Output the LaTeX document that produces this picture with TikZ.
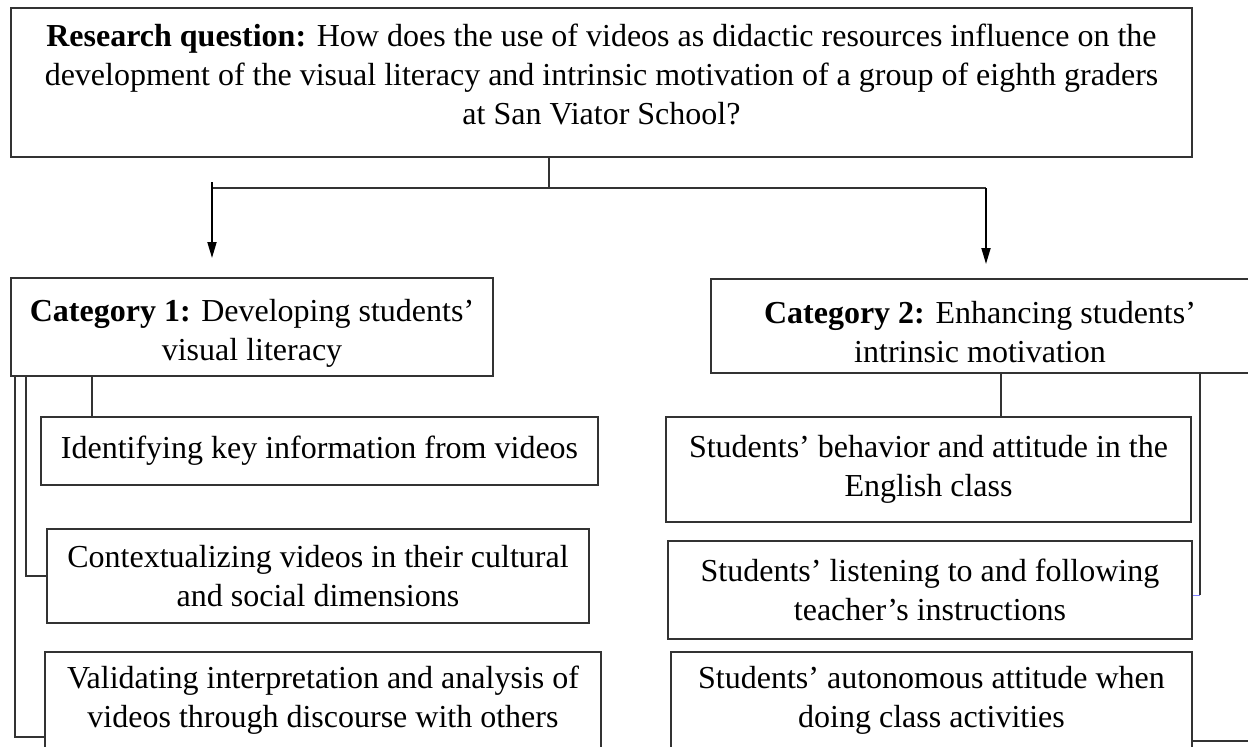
\documentclass[tikz,border=0pt]{standalone}
\usepackage{fontspec}
\setmainfont{Liberation Serif}
\usepackage{tikz}
\usetikzlibrary{arrows,
	arrows.meta,
	calc,
	positioning}

\begin{document}
\begin{tikzpicture}[x=0.5pt,y=-0.5pt,font=\fontsize{16}{19.5}\selectfont]
      \tikzstyle{box}=[draw=black!80,line width=0.7pt,align=center,inner sep=0pt]
      \tikzstyle{txt}=[align=center,inner sep=0pt]
      \tikzstyle{link}=[draw=black!80,line width=0.7pt]
      \tikzstyle{arr}=[draw=black,line width=0.9pt,-{Triangle[length=8pt,width=4.5pt]}]
      \useasboundingbox (0,0) rectangle (1248,746);
      \node[box,minimum width=590.5pt,minimum height=74.5pt] (rq) at (601.5,82.5) {};
      \node[txt] (rq_text) at ([yshift=4pt]rq.center)
        {\textbf{Research question:} How does the use of videos as didactic resources influence on the\\
         development of the visual literacy and intrinsic motivation of a group of eighth graders\\
         at San Viator School?};
      \node[box,minimum width=241pt,minimum height=49pt] (c_1) at (252,327) {};
      \node[txt] (c_1_text) at ([yshift=-3pt]c_1.center)
        {\textbf{Category 1:} Developing students'\\ visual literacy};
      \node[box,minimum width=269pt,minimum height=47pt] (c_2) at (980,326) {};
      \node[txt] (c_2_text) at ([yshift=-3pt]c_2.center)
        {\textbf{Category 2:} Enhancing students'\\ intrinsic motivation};
      \node[box,minimum width=278.5pt,minimum height=34pt] (s_11) at (319.5,451)
        {Identifying key information from videos};
      \node[box,minimum width=271pt,minimum height=47pt] (s_12) at (318,576)
        {Contextualizing videos in their cultural\\ and social dimensions};
      \node[box,minimum width=278pt,minimum height=48pt] (s_13) at (323,700)
        {Validating interpretation and analysis of\\ videos through discourse with others};
      \node[box,minimum width=262.5pt,minimum height=52.5pt] (s_21) at (928.5,469.5)
        {Students' behavior and attitude in the\\ English class};
      \node[box,minimum width=262pt,minimum height=49pt] (s_22) at (930,590)
        {Students' listening to and following\\ teacher's instructions};
      \node[box,minimum width=260.5pt,minimum height=48pt] (s_23) at (931.5,700)
        {Students' autonomous attitude when\\ doing class activities};
      % split below the research question
      \coordinate (j) at (549,188);
      \coordinate (a_1) at (212,258);
      \coordinate (a_2) at (986,264);
      \draw[link] (rq.south -| j) -- (j);
      \draw[link] (a_1 |- j) -- (a_2 |- j);
      \draw[arr] (a_1 |- 0,182) -- (a_1);
      \draw[arr] (a_2 |- j) -- (a_2);
      % category 1
      \draw[link] (c_1.south -| 15,0) |- (s_13.west |- 0,737);
      \draw[link] (c_1.south -| 26,0) |- (s_12.west);
      \draw[link] (c_1.south -| 92,0) -- (s_11.north -| 92,0);
      % category 2
      \draw[link] (c_2.south -| 1001,0) -- (s_21.north -| 1001,0);
      \draw[link] (c_2.south -| 1200,0) -- (1200,595) coordinate (t);
      \draw[blue!50,line width=0.5pt] (t) -- (s_22.east |- t);
      \draw[link] (s_23.east |- 0,741) -- (1248,741);
    \end{tikzpicture}
\end{document}
